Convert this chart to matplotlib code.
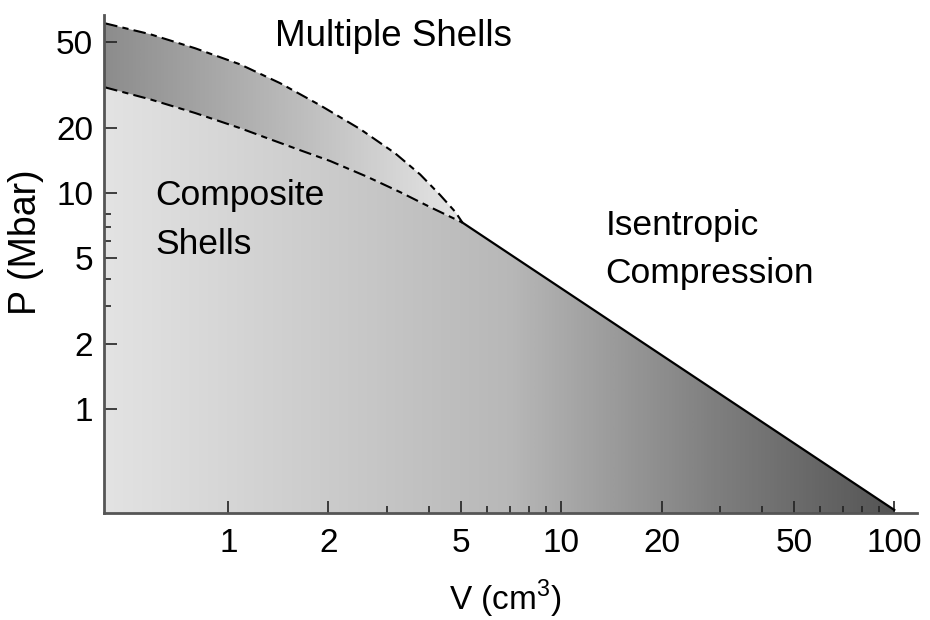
import matplotlib
matplotlib.use("Agg")
import matplotlib.pyplot as plt
import numpy as np
from matplotlib.patches import Polygon
from matplotlib.colors import LinearSegmentedColormap

plt.rcParams['font.family'] = ['Liberation Sans', 'DejaVu Sans']
plt.rcParams['mathtext.fontset'] = 'custom'
plt.rcParams['mathtext.rm'] = 'Liberation Sans'

# upper boundary of the multiple-shell region
v_multiple = [0.427, 0.583, 0.796, 1.086, 1.433, 1.89, 2.49, 3.17, 3.77, 4.33, 4.81, 5.05]
p_multiple = [61.2, 54.5, 46.9, 39.5, 32.3, 25.5, 19.8, 15.3, 12.2, 9.79, 8.17, 7.3]

# upper boundary of the composite-shell region
v_composite = [0.427, 0.583, 0.796, 1.086, 1.31, 1.645, 2.02, 2.615, 3.285, 4.04, 5.05]
p_composite = [30.9, 27.2, 23.5, 20.0, 17.97, 15.8, 14.1, 11.9, 10.1, 8.61, 7.3]

# isentropic compression line
v_isentrope = [5.05, 100]
p_isentrope = [7.3, 0.34]

x_ticks = [1, 2, 5, 10, 20, 50, 100]
x_labels = ['1', '2', '5', '10', '20', '50', '100']
x_minor = [3, 4, 6, 7, 8, 9, 30, 40, 60, 70, 80, 90]
y_ticks = [1, 2, 5, 10, 20, 50]
y_labels = ['1', '2', '5', '10', '20', '50']
y_minor = [3, 4, 6, 7, 8]

xmin, xmax = 0.424, 117
ymin, ymax = 0.33, 67

fig = plt.figure(figsize=(9.3, 6.2), dpi=100)
ax = fig.add_axes([0.112, 0.173, 0.874, 0.803])
ax.set_xscale('log')
ax.set_yscale('log')

# main region (composite + isentrope, down to the axis)
main_verts = list(zip(v_composite, p_composite)) + list(zip(v_isentrope[1:], p_isentrope[1:]))
main_verts += [(v_isentrope[-1], ymin * 0.9), (xmin * 0.9, ymin * 0.9), (xmin * 0.9, p_composite[0])]
main_poly = Polygon(main_verts, closed=True, transform=ax.transData, facecolor='none', edgecolor='none')
ax.add_patch(main_poly)

cmap_main = LinearSegmentedColormap.from_list(
    'main', [(0.0, (0.89,) * 3), (0.5, (0.72,) * 3), (0.75, (0.50,) * 3), (1.0, (0.31,) * 3)])
grad = np.linspace(0, 1, 512).reshape(1, -1)
im = ax.imshow(grad, cmap=cmap_main, extent=[0, 1, 0, 1], transform=ax.transAxes,
               aspect='auto', interpolation='bilinear', zorder=1)
im.set_clip_path(main_poly)

# multiple-shell band
band_verts = list(zip(v_multiple, p_multiple)) + list(zip(v_composite[::-1], p_composite[::-1]))
band_verts += [(xmin * 0.9, p_composite[0]), (xmin * 0.9, p_multiple[0])]
band_poly = Polygon(band_verts, closed=True, transform=ax.transData, facecolor='none', edgecolor='none')
ax.add_patch(band_poly)
cmap_band = LinearSegmentedColormap.from_list(
    'band', [(0.0, (0.55,) * 3), (0.44, (0.90,) * 3), (1.0, (0.90,) * 3)])
im2 = ax.imshow(grad, cmap=cmap_band, extent=[0, 1, 0, 1], transform=ax.transAxes,
                aspect='auto', interpolation='bilinear', zorder=1)
im2.set_clip_path(band_poly)

dash = (0, (6, 2.5, 3, 2.5))
ax.plot(v_multiple, p_multiple, color='black', lw=1.5, linestyle=dash, zorder=3)
ax.plot(v_composite, p_composite, color='black', lw=1.5, linestyle=dash, zorder=3)
ax.plot(v_isentrope, p_isentrope, color='black', lw=1.6, zorder=3)

ax.set_xlim(xmin, xmax)
ax.set_ylim(ymin, ymax)

ax.spines['top'].set_visible(False)
ax.spines['right'].set_visible(False)
for s in ['left', 'bottom']:
    ax.spines[s].set_color('#555555')
    ax.spines[s].set_linewidth(2.0)
    ax.spines[s].set_zorder(4)

ax.set_xticks(x_ticks)
ax.set_xticklabels(x_labels)
ax.set_xticks(x_minor, minor=True)
ax.set_xticklabels([], minor=True)
ax.set_yticks(y_ticks)
ax.set_yticklabels(y_labels)
ax.set_yticks(y_minor, minor=True)
ax.set_yticklabels([], minor=True)
ax.tick_params(which='major', direction='in', length=9, width=1.2, color='#222222',
               labelsize=24, top=False, right=False)
ax.tick_params(which='minor', direction='in', length=5, width=1.2, color='#222222',
               top=False, right=False)
ax.tick_params(axis='x', which='major', pad=11)
ax.tick_params(axis='y', which='major', pad=8)

ax.set_xlabel('V (cm$^{3}$)', fontsize=24)
ax.set_ylabel('P (Mbar)', fontsize=27)
ax.xaxis.set_label_coords(0.493, -0.13)
ax.yaxis.set_label_coords(-0.074, 0.544)

ax.text(3.13, 53.3, 'Multiple Shells', fontsize=26.5, ha='center', va='center', zorder=5)
ax.text(0.604, 7.5, 'Composite\nShells', fontsize=25.5, ha='left', va='center',
        linespacing=1.62, zorder=5)
ax.text(13.6, 5.5, 'Isentropic\nCompression', fontsize=25.5, ha='left', va='center',
        linespacing=1.58, zorder=5)

fig.savefig('out.png', dpi=100)
